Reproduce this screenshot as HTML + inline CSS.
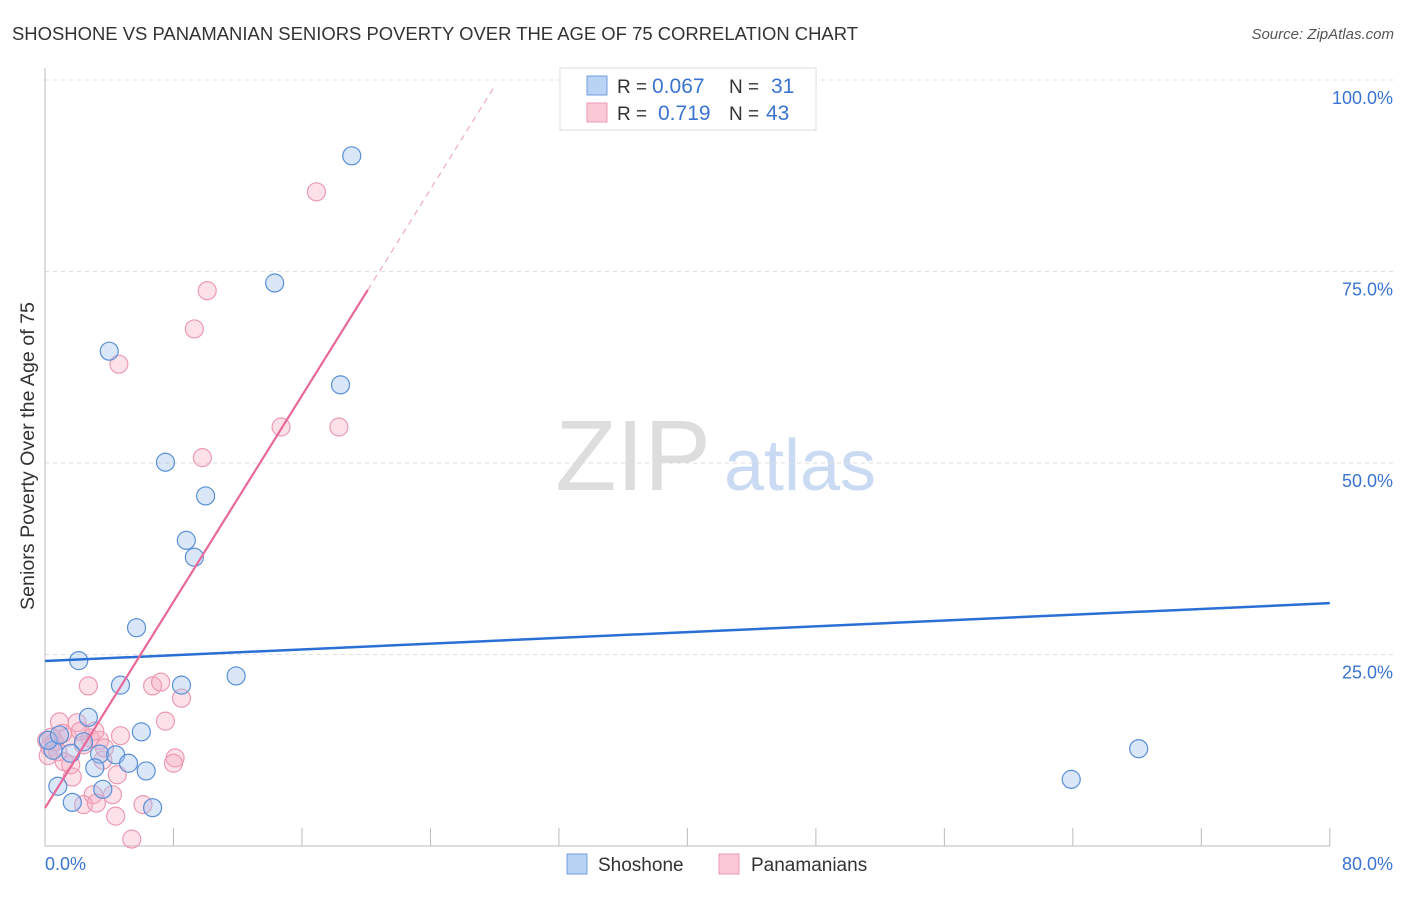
<!DOCTYPE html>
<html><head><meta charset="utf-8"><style>
body{margin:0;background:#fff;font-family:"Liberation Sans",sans-serif}
svg text{font-family:"Liberation Sans",sans-serif}
</style></head><body>
<svg width="1406" height="892">
<text x="12" y="40" font-size="18" fill="#333" textLength="846" lengthAdjust="spacingAndGlyphs">SHOSHONE VS PANAMANIAN SENIORS POVERTY OVER THE AGE OF 75 CORRELATION CHART</text>
<text x="1394" y="39" font-size="15" fill="#555" font-style="italic" text-anchor="end">Source: ZipAtlas.com</text>
<g>
<text x="633" y="490" font-size="100" fill="#ddd" font-family="Liberation Serif" text-anchor="middle">ZIP</text>
<text x="800" y="490" font-size="72" fill="#c9daf2" text-anchor="middle">atlas</text>
</g>
<g id="grid"></g>
<g id="axes"></g>
<g id="pts"></g>
<g id="lines"></g>
<text x="34" y="456" font-size="19" fill="#333" text-anchor="middle" transform="rotate(-90 34 456)" textLength="308" lengthAdjust="spacingAndGlyphs">Seniors Poverty Over the Age of 75</text>
<text x="45" y="870" font-size="18" fill="#3a74d0">0.0%</text>
<text x="1393" y="870" font-size="18" fill="#3a74d0" text-anchor="end">80.0%</text>
<g>
<rect x="560" y="68" width="256" height="62" fill="#fff" stroke="#ddd"/>
<rect x="587" y="76" width="20" height="19" fill="#b9d3f5" stroke="#6f9ee0"/>
<rect x="587" y="103" width="20" height="19" fill="#fbc8d6" stroke="#ef9ab4"/>
<text x="617" y="93" font-size="19" fill="#333">R = <tspan x="652" font-size="21" fill="#3a74d0">0.067</tspan><tspan x="729">N = </tspan><tspan x="771" font-size="21" fill="#3a74d0">31</tspan></text>
<text x="617" y="120" font-size="19" fill="#333">R = <tspan x="658" font-size="21" fill="#3a74d0">0.719</tspan><tspan x="729">N = </tspan><tspan x="766" font-size="21" fill="#3a74d0">43</tspan></text>
</g>
<g>
<rect x="567" y="854" width="20" height="20" fill="#b9d3f5" stroke="#6f9ee0"/>
<text x="598" y="871" font-size="19" fill="#333">Shoshone</text>
<rect x="719" y="854" width="20" height="20" fill="#fbc8d6" stroke="#ef9ab4"/>
<text x="751" y="871" font-size="19" fill="#333">Panamanians</text>
</g>
</svg>
<script>
const yTicks=[25,50,75,100];
const yTickLabels=["25.0%","50.0%","75.0%","100.0%"];
const xTicks=[0,8,16,24,32,40,48,56,64,72,80];
const shoshoneX=[19.1,14.3,4.0,18.4,7.5,10.0,8.8,9.3,5.7,2.1,4.7,8.5,11.9,2.7,6.0,2.4,0.5,1.6,3.4,4.4,5.2,3.1,6.3,0.8,3.6,1.7,6.7,63.9,68.1,0.2,0.9];
const shoshoneY=[90.1,73.5,64.6,60.2,50.1,45.7,39.9,37.7,28.5,24.2,21.0,21.0,22.2,16.8,14.9,13.6,12.5,12.1,12.0,11.9,10.8,10.2,9.8,7.8,7.4,5.7,5.0,8.7,12.7,13.8,14.5];
const panX=[16.9,10.1,9.3,4.6,14.7,18.3,9.8,2.7,6.7,7.2,8.5,7.5,0.9,2.0,0.4,1.4,2.8,3.4,0.3,2.4,8.1,8.0,3.6,1.6,4.5,1.7,3.0,4.2,2.4,3.2,6.1,4.4,5.4,0.1,0.6,1.1,0.2,3.7,2.2,0.8,3.1,4.7,1.2];
const panY=[85.4,72.5,67.5,62.9,54.7,54.7,50.7,20.9,20.9,21.4,19.3,16.3,16.2,16.1,14.2,14.2,14.1,13.8,12.9,13.2,11.5,10.8,11.2,10.6,9.3,9.0,6.7,6.7,5.4,5.6,5.4,3.9,0.9,13.8,13.6,14.7,11.8,12.8,15.0,12.3,15.0,14.4,11.0];
const blueTrend=[[0,24.15],[80,31.7]];
const pinkSolid=[[0,4.96],[20.1,72.6]];
const pinkDash=[[20.1,72.6],[28.0,99.2]];
const NS='http://www.w3.org/2000/svg';
const X=v=>45+v*16.06, Y=v=>846-v*7.66;
function mk(t,a,p){const e=document.createElementNS(NS,t);for(const k in a)e.setAttribute(k,a[k]);document.getElementById(p).appendChild(e);return e;}
yTicks.forEach((t,i)=>{
 const g=mk('line',{x1:45,x2:1393,y1:Y(t),y2:Y(t),stroke:'#ddd','stroke-dasharray':'4 4'},'grid');
 
 
 const l=mk('text',{x:1393,y:Y(t)+24,'font-size':18,fill:'#3a74d0','text-anchor':'end'},'grid');
 l.textContent=yTickLabels[i];
 
 
});
const ax=mk('line',{x1:45,x2:45,y1:68,y2:846,stroke:'#bbb'},'axes');


const bx=mk('line',{x1:45,x2:1330,y1:846,y2:846,stroke:'#bbb'},'axes');


xTicks.forEach(t=>{
 const e=mk('line',{x1:X(t),x2:X(t),y1:828,y2:846,stroke:'#bbb'},'axes');
 
 
});
function pts(xs,ys,fill,stroke,name){xs.forEach((x,i)=>{
 const c=mk('circle',{cx:X(x),cy:Y(ys[i]),r:9,fill:fill,stroke:stroke,'stroke-width':1.2},'pts');
 
 
});}
pts(panX,panY,'rgba(246,170,192,0.35)','#ec9ab2','panamanians-point');
pts(shoshoneX,shoshoneY,'rgba(160,196,240,0.4)','#5b8fd6','shoshone-point');
function ln(p,st,w,d,name){const e=mk('line',{x1:X(p[0][0]),y1:Y(p[0][1]),x2:X(p[1][0]),y2:Y(p[1][1]),stroke:st,'stroke-width':w},'lines');if(d)e.setAttribute('stroke-dasharray',d);
 
 }
ln(blueTrend,'#2a6fd4',2.5,null,'shoshone-trend-line');
ln(pinkSolid,'#e8689a',2.2,null,'panamanians-trend-line');
ln(pinkDash,'#eeaac0',1.2,'6 5','panamanians-trend-extension');
</script>
</body></html>
